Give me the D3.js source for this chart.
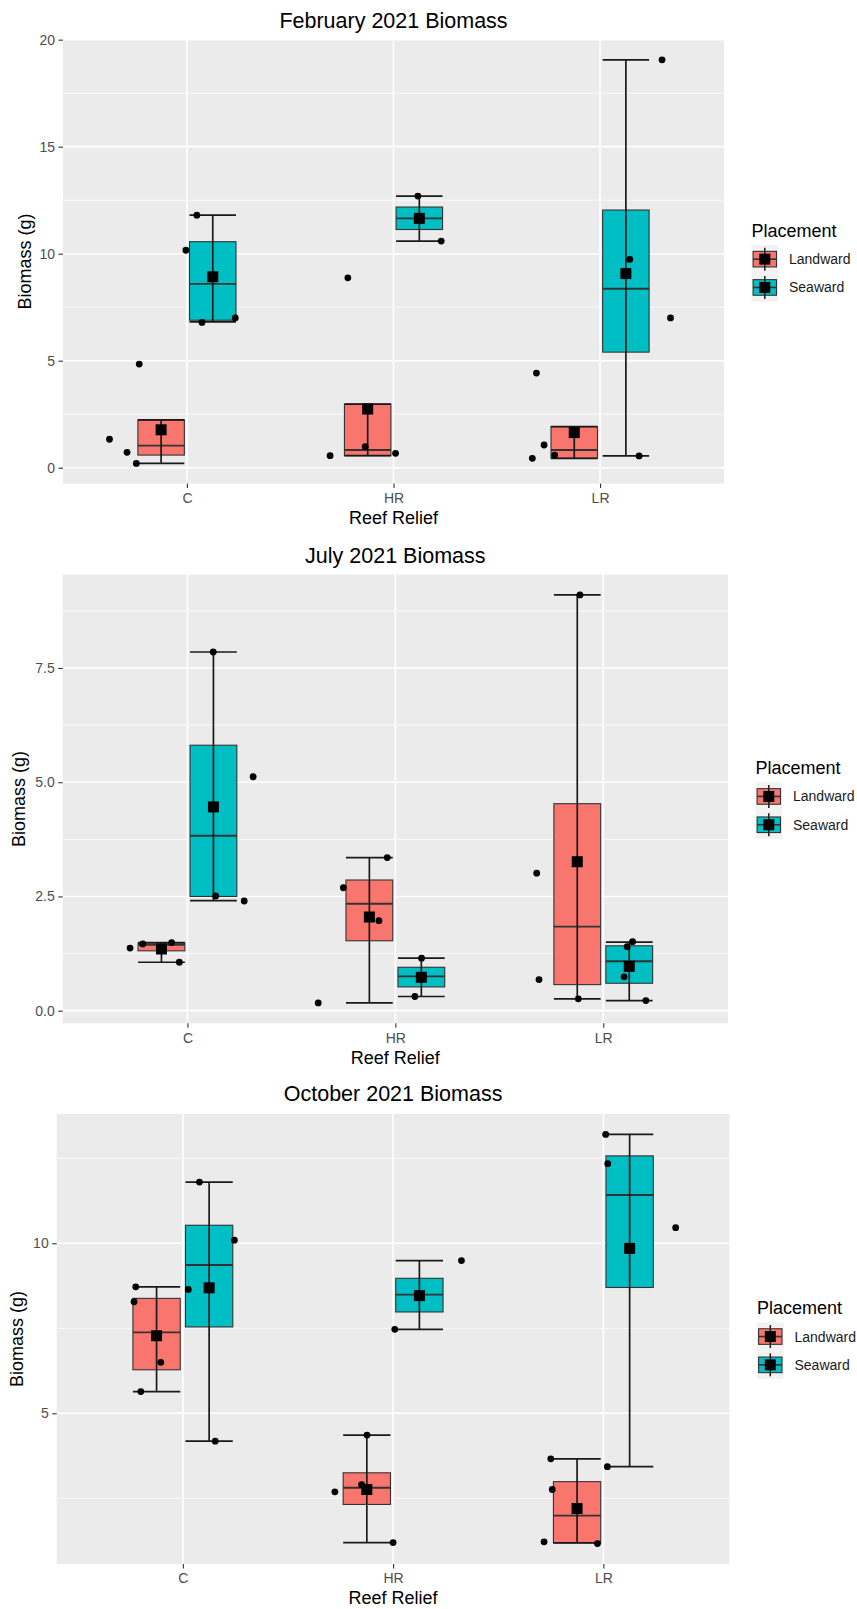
<!DOCTYPE html>
<html>
<head>
<meta charset="utf-8">
<script src="https://cdn.jsdelivr.net/npm/d3@7"></script>
<style>
  body { margin: 0; background: #ffffff; }
  svg { display: block; font-family: "Liberation Sans", Arial, Helvetica, sans-serif; }
</style>
</head>
<body>
<svg id="chart" width="857" height="1609"></svg>
<script>
// ---- data -------------------------------------------------------------
const categories = ["C", "HR", "LR"];
const placements = ["Landward", "Seaward"];
const placementColors = ["#F8766D", "#00BFC4"];

// box summaries per reef relief (C, HR, LR):
// [whisker low, q1, median, q3, whisker high, mean]
const febLandward = [
  [0.20, 0.59, 1.03, 2.23, 2.23, 1.77],
  [0.56, 0.56, 0.83, 2.97, 2.97, 2.74],
  [0.44, 0.44, 0.83, 1.92, 1.92, 1.64]
];
const febSeaward = [
  [6.81, 6.89, 8.59, 10.56, 11.80, 8.92],
  [10.59, 11.13, 11.65, 12.18, 12.69, 11.65],
  [0.55, 5.40, 8.36, 12.04, 19.06, 9.07]
];
const julLandward = [
  [1.06, 1.31, 1.44, 1.48, 1.49, 1.35],
  [0.17, 1.53, 2.34, 2.86, 3.35, 2.05],
  [0.26, 0.57, 1.84, 4.53, 9.10, 3.26]
];
const julSeaward = [
  [2.41, 2.50, 3.83, 5.81, 7.85, 4.46],
  [0.31, 0.52, 0.75, 0.95, 1.15, 0.73],
  [0.22, 0.60, 1.08, 1.42, 1.50, 0.97]
];
const octLandward = [
  [5.64, 6.28, 7.38, 8.38, 8.72, 7.28],
  [1.20, 2.32, 2.81, 3.25, 4.36, 2.76],
  [1.19, 1.19, 1.99, 2.99, 3.66, 2.20]
];
const octSeaward = [
  [4.18, 7.54, 9.36, 10.53, 11.80, 8.69],
  [7.47, 7.98, 8.49, 8.97, 9.49, 8.46],
  [3.43, 8.70, 11.42, 12.57, 13.20, 9.85]
];

// individual samples: [reef relief, placement, biomass, jitter (fraction of category step)]
const febPoints = [
  ["C","Landward",1.33,-0.250],["C","Landward",0.72,-0.165],["C","Landward",0.20,-0.120],["C","Landward",4.84,-0.106],
  ["C","Seaward",11.80,-0.077],["C","Seaward",10.16,-0.130],["C","Seaward",6.79,-0.052],["C","Seaward",7.00,0.109],
  ["HR","Landward",0.56,-0.182],["HR","Landward",8.87,-0.096],["HR","Landward",0.98,-0.012],["HR","Landward",0.67,0.135],
  ["HR","Seaward",12.69,-0.007],["HR","Seaward",10.59,0.106],
  ["LR","Landward",4.42,-0.183],["LR","Landward",1.06,-0.146],["LR","Landward",0.44,-0.203],["LR","Landward",0.59,-0.095],
  ["LR","Seaward",19.06,0.175],["LR","Seaward",9.73,0.019],["LR","Seaward",7.00,0.216],["LR","Seaward",0.55,0.064]
];
const julPoints = [
  ["C","Landward",1.37,-0.151],["C","Landward",1.46,-0.090],["C","Landward",1.49,0.049],["C","Landward",1.06,0.086],
  ["C","Seaward",7.85,-0.001],["C","Seaward",5.12,0.191],["C","Seaward",2.51,0.011],["C","Seaward",2.40,0.148],
  ["HR","Landward",3.35,0.086],["HR","Landward",2.69,-0.125],["HR","Landward",1.97,0.046],["HR","Landward",0.17,-0.246],
  ["HR","Seaward",1.15,0.001],["HR","Seaward",0.31,-0.031],
  ["LR","Landward",9.10,0.013],["LR","Landward",3.01,-0.195],["LR","Landward",0.68,-0.184],["LR","Landward",0.26,0.005],
  ["LR","Seaward",1.51,0.016],["LR","Seaward",1.40,-0.010],["LR","Seaward",0.74,-0.025],["LR","Seaward",0.22,0.080]
];
const octPoints = [
  ["C","Landward",8.72,-0.099],["C","Landward",8.28,-0.107],["C","Landward",6.50,0.020],["C","Landward",5.64,-0.075],
  ["C","Seaward",11.80,-0.046],["C","Seaward",10.09,0.120],["C","Seaward",8.64,-0.099],["C","Seaward",4.18,0.029],
  ["HR","Landward",4.36,0.001],["HR","Landward",2.90,-0.025],["HR","Landward",2.69,-0.152],["HR","Landward",1.20,0.125],
  ["HR","Seaward",7.47,-0.117],["HR","Seaward",9.49,0.200],
  ["LR","Landward",3.66,-0.125],["LR","Landward",2.76,-0.118],["LR","Landward",1.22,-0.157],["LR","Landward",1.17,0.097],
  ["LR","Seaward",13.20,-0.114],["LR","Seaward",12.34,-0.104],["LR","Seaward",10.46,0.219],["LR","Seaward",3.43,-0.106]
];

// y axis breaks and their labels
const febTicks = [0, 5, 10, 15, 20];
const febTickLabels = ["0", "5", "10", "15", "20"];
const julTicks = [0, 2.5, 5, 7.5];
const julTickLabels = ["0.0", "2.5", "5.0", "7.5"];
const octTicks = [5, 10];
const octTickLabels = ["5", "10"];

// ---- layout -------------------------------------------------------------
const panels = [
  { title: "February 2021 Biomass", boxes: [febLandward, febSeaward], points: febPoints,
    ticks: febTicks, tickLabels: febTickLabels,
    left: 63, right: 724, top: 39.6, bottom: 483.6, titleY: 20, yTitleX: 25 },
  { title: "July 2021 Biomass", boxes: [julLandward, julSeaward], points: julPoints,
    ticks: julTicks, tickLabels: julTickLabels,
    left: 62.7, right: 728, top: 574.5, bottom: 1023.3, titleY: 555, yTitleX: 19 },
  { title: "October 2021 Biomass", boxes: [octLandward, octSeaward], points: octPoints,
    ticks: octTicks, tickLabels: octTickLabels,
    left: 56.7, right: 729.5, top: 1114, bottom: 1564, titleY: 1093, yTitleX: 17 }
];

const svg = d3.select("#chart");
const color = d3.scaleOrdinal().domain(placements).range(placementColors);
const dodge = d3.scaleOrdinal().domain(placements).range([-0.125, 0.125]);

function drawPanel(p) {
  const g = svg.append("g");

  // data extent over all layers, expanded by 5% like ggplot's default
  const vals = [];
  p.boxes.forEach(set => set.forEach(r => vals.push(...r)));
  p.points.forEach(d => vals.push(d[2]));
  const [lo, hi] = d3.extent(vals);
  const pad = (hi - lo) * 0.05;

  const y = d3.scaleLinear().domain([lo - pad, hi + pad]).range([p.bottom, p.top]);
  const x = d3.scalePoint().domain(categories).range([p.left, p.right]).padding(0.6);
  const step = x.step();
  const boxW = 0.225 * step;

  // panel background
  g.append("rect")
    .attr("x", p.left).attr("y", p.top)
    .attr("width", p.right - p.left).attr("height", p.bottom - p.top)
    .attr("fill", "#EBEBEB");

  // minor grid halfway between breaks
  const tstep = p.ticks.length > 1 ? p.ticks[1] - p.ticks[0] : 5;
  const ext = [p.ticks[0] - tstep, ...p.ticks, p.ticks[p.ticks.length - 1] + tstep];
  const minor = d3.pairs(ext).map(([a, b]) => (a + b) / 2)
    .filter(v => v > y.domain()[0] && v < y.domain()[1]);
  g.selectAll(".minor").data(minor).join("line")
    .attr("x1", p.left).attr("x2", p.right)
    .attr("y1", d => y(d)).attr("y2", d => y(d))
    .attr("stroke", "#ffffff").attr("stroke-width", 0.8);

  // major grid
  g.selectAll(".major").data(p.ticks).join("line")
    .attr("x1", p.left).attr("x2", p.right)
    .attr("y1", d => y(d)).attr("y2", d => y(d))
    .attr("stroke", "#ffffff").attr("stroke-width", 1.6);
  g.selectAll(".vgrid").data(categories).join("line")
    .attr("x1", d => x(d)).attr("x2", d => x(d))
    .attr("y1", p.top).attr("y2", p.bottom)
    .attr("stroke", "#ffffff").attr("stroke-width", 1.6);

  // boxes, whiskers, means
  const groups = [];
  placements.forEach((pl, i) => {
    p.boxes[i].forEach((r, j) => {
      groups.push({ pl, cat: categories[j], lo: r[0], q1: r[1], med: r[2], q3: r[3], hi: r[4], mean: r[5],
                    cx: x(categories[j]) + dodge(pl) * step });
    });
  });

  const gb = g.append("g");
  gb.selectAll("rect.box").data(groups).join("rect")
    .attr("x", d => d.cx - boxW / 2).attr("width", boxW)
    .attr("y", d => y(d.q3)).attr("height", d => y(d.q1) - y(d.q3))
    .attr("fill", d => color(d.pl))
    .attr("stroke", "#333333").attr("stroke-width", 1.1);
  gb.selectAll("line.med").data(groups).join("line")
    .attr("x1", d => d.cx - boxW / 2).attr("x2", d => d.cx + boxW / 2)
    .attr("y1", d => y(d.med)).attr("y2", d => y(d.med))
    .attr("stroke", "#333333").attr("stroke-width", 1.9);

  // error bars spanning the whiskers
  const eb = g.append("g").attr("stroke", "#1a1a1a").attr("stroke-width", 1.7);
  eb.selectAll("line.v").data(groups).join("line")
    .attr("x1", d => d.cx).attr("x2", d => d.cx)
    .attr("y1", d => y(d.lo)).attr("y2", d => y(d.hi));
  eb.selectAll("line.capLo").data(groups).join("line")
    .attr("x1", d => d.cx - boxW / 2).attr("x2", d => d.cx + boxW / 2)
    .attr("y1", d => y(d.lo)).attr("y2", d => y(d.lo));
  eb.selectAll("line.capHi").data(groups).join("line")
    .attr("x1", d => d.cx - boxW / 2).attr("x2", d => d.cx + boxW / 2)
    .attr("y1", d => y(d.hi)).attr("y2", d => y(d.hi));

  // jittered samples
  g.append("g").selectAll("circle").data(p.points).join("circle")
    .attr("cx", d => x(d[0]) + (dodge(d[1]) + d[3]) * step)
    .attr("cy", d => y(d[2]))
    .attr("r", 3.4)
    .attr("fill", "#000000");

  // group means
  const sq = 11;
  g.append("g").selectAll("rect").data(groups).join("rect")
    .attr("x", d => d.cx - sq / 2).attr("y", d => y(d.mean) - sq / 2)
    .attr("width", sq).attr("height", sq)
    .attr("fill", "#000000");

  // axes
  const yAxis = d3.axisLeft(y).tickValues(p.ticks)
    .tickFormat((d, i) => p.tickLabels[i]).tickSize(4.5).tickPadding(3.5);
  const ya = g.append("g").attr("transform", `translate(${p.left},0)`).call(yAxis);
  const xAxis = d3.axisBottom(x).tickSize(4.5).tickPadding(5);
  const xa = g.append("g").attr("transform", `translate(0,${p.bottom})`).call(xAxis);
  [ya, xa].forEach(a => {
    a.select(".domain").remove();
    a.selectAll(".tick line").attr("stroke", "#333333").attr("stroke-width", 1.1);
    a.selectAll(".tick text").attr("fill", "#4D4D4D").attr("font-size", 14)
      .attr("font-family", "Liberation Sans, Arial, sans-serif");
  });

  const cxPanel = (p.left + p.right) / 2;
  const cyPanel = (p.top + p.bottom) / 2;

  // titles
  g.append("text").attr("x", cxPanel).attr("y", p.titleY + 0.36 * 21.5)
    .attr("text-anchor", "middle").attr("font-size", 21.5).attr("fill", "#000")
    .text(p.title);
  g.append("text").attr("x", cxPanel).attr("y", p.bottom + 34 + 0.36 * 18)
    .attr("text-anchor", "middle").attr("font-size", 18).attr("fill", "#000")
    .text("Reef Relief");
  g.append("text")
    .attr("transform", `translate(${p.yTitleX + 0.36 * 18},${cyPanel}) rotate(-90)`)
    .attr("text-anchor", "middle").attr("font-size", 18).attr("fill", "#000")
    .text("Biomass (g)");

  // legend
  const kx = p.right + 27.5, kw = 26.6, kh = 28.3;
  const lg = g.append("g");
  lg.append("text").attr("x", kx).attr("y", cyPanel - 31.5 + 0.36 * 18)
    .attr("font-size", 18).attr("fill", "#000").text("Placement");
  placements.forEach((pl, i) => {
    const ky = cyPanel - 16.6 + i * kh;
    const kc = ky + kh / 2;
    const mid = kx + kw / 2;
    lg.append("rect").attr("x", kx).attr("y", ky).attr("width", kw).attr("height", kh).attr("fill", "#F2F2F2");
    lg.append("line").attr("x1", mid).attr("x2", mid).attr("y1", kc - 11.5).attr("y2", kc + 11.5)
      .attr("stroke", "#1a1a1a").attr("stroke-width", 1.5);
    lg.append("rect").attr("x", kx + 1.6).attr("y", kc - 7.8).attr("width", kw - 3.2).attr("height", 15.6)
      .attr("fill", color(pl)).attr("stroke", "#333333").attr("stroke-width", 1.1);
    lg.append("line").attr("x1", kx + 1.6).attr("x2", kx + kw - 1.6).attr("y1", kc).attr("y2", kc)
      .attr("stroke", "#333333").attr("stroke-width", 1.6);
    lg.append("line").attr("x1", mid).attr("x2", mid).attr("y1", kc - 7.8).attr("y2", kc + 7.8)
      .attr("stroke", "#1a1a1a").attr("stroke-width", 1.5);
    lg.append("rect").attr("x", mid - 5.5).attr("y", kc - 5.5).attr("width", 11).attr("height", 11).attr("fill", "#000");
    lg.append("text").attr("x", kx + 37.5).attr("y", kc + 0.36 * 14)
      .attr("font-size", 14).attr("fill", "#1a1a1a").text(pl);
  });
}

panels.forEach(drawPanel);
</script>
</body>
</html>
